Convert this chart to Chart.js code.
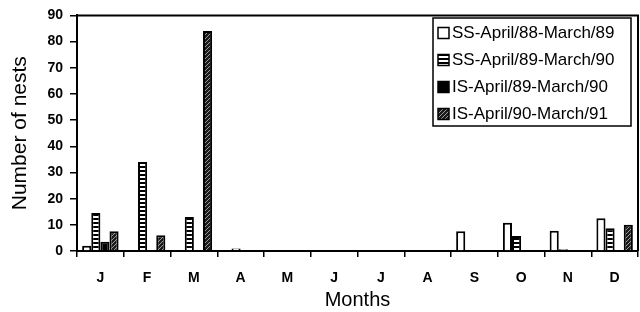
<!DOCTYPE html>
<html>
<head>
<meta charset="utf-8">
<script src="https://cdn.jsdelivr.net/npm/chart.js@4.4.0/dist/chart.umd.min.js"></script>
<style>
  html, body { margin: 0; padding: 0; background: #fff; }
  #wrap { width: 640px; height: 312px; }
</style>
</head>
<body>
<div id="wrap"><canvas id="myChart" width="640" height="312"></canvas></div>
<script>
// months on x axis
const months = ['J', 'F', 'M', 'A', 'M', 'J', 'J', 'A', 'S', 'O', 'N', 'D'];

// series values
const ss8889 = [2, 0, 0, 0, 0, 0, 0, 0, 7.5, 10.8, 7.7, 12.5];
const ss8990 = [14.5, 34, 13, 1, 0, 0, 0, 0, 0, 5.7, 0.7, 8.7];
const is8990 = [3.5, 0, 0, 0, 0, 0, 0, 0, 0, 0, 0, 0];
const is9091 = [7.5, 6, 84, 0, 0, 0, 0, 0, 0, 0, 0, 10];

const seriesLabels = [
  'SS-April/88-March/89',
  'SS-April/89-March/90',
  'IS-April/89-March/90',
  'IS-April/90-March/91'
];

const yTicks = [0, 10, 20, 30, 40, 50, 60, 70, 80, 90];

const FONT = '"Liberation Sans", Arial, sans-serif';

// fill patterns
function makePattern(w, h, draw) {
  const c = document.createElement('canvas');
  c.width = w;
  c.height = h;
  const g = c.getContext('2d');
  draw(g);
  return document.getElementById('myChart').getContext('2d').createPattern(c, 'repeat');
}

const stripes = makePattern(4, 4, g => {
  g.fillStyle = '#fff';
  g.fillRect(0, 0, 4, 4);
  g.fillStyle = '#000';
  g.fillRect(0, 2, 4, 2);
});

const hatch = makePattern(4, 4, g => {
  g.fillStyle = '#1a1a1a';
  g.fillRect(0, 0, 4, 4);
  g.fillStyle = '#9a9a9a';
  g.fillRect(3, 0, 1, 1);
  g.fillRect(2, 1, 1, 1);
  g.fillRect(1, 2, 1, 1);
  g.fillRect(0, 3, 1, 1);
});

const fills = ['#ffffff', stripes, '#000000', hatch];

// frame on top/right + legend box inside the plot
const framePlugin = {
  id: 'frame',
  afterDraw(chart) {
    const c = chart.ctx;
    const a = chart.chartArea;
    c.save();
    c.strokeStyle = '#000';
    c.lineWidth = 2;
    c.beginPath();
    c.moveTo(a.left, a.top);
    c.lineTo(a.right, a.top);
    c.lineTo(a.right, a.bottom);
    c.stroke();

    // legend
    const bx = 433, by = 18, bw = 198, bh = 108;
    c.lineWidth = 1.5;
    c.fillStyle = '#fff';
    c.fillRect(bx, by, bw, bh);
    c.strokeRect(bx, by, bw, bh);
    c.font = '17px ' + FONT;
    c.textBaseline = 'middle';
    chart.data.datasets.forEach((ds, i) => {
      const y = by + 15 + i * 27;
      c.fillStyle = ds.backgroundColor;
      c.fillRect(438, y - 5.5, 11, 11);
      c.lineWidth = 1.5;
      c.strokeStyle = '#000';
      c.strokeRect(438, y - 5.5, 11, 11);
      c.fillStyle = '#000';
      c.fillText(ds.label, 452, y);
    });
    c.restore();
  }
};

const ctx = document.getElementById('myChart').getContext('2d');

const myChart = new Chart(ctx, {
  type: 'bar',
  data: {
    labels: months,
    datasets: [ss8889, ss8990, is8990, is9091].map((vals, i) => ({
      label: seriesLabels[i],
      data: vals,
      backgroundColor: fills[i],
      borderColor: '#000',
      borderWidth: 2,
      borderSkipped: 'bottom',
      barPercentage: 1,
      categoryPercentage: 0.78
    }))
  },
  options: {
    responsive: false,
    animation: false,
    devicePixelRatio: 1,
    layout: { padding: { top: 14, right: 2, left: 0, bottom: 0 } },
    plugins: {
      legend: { display: false },
      tooltip: { enabled: false }
    },
    scales: {
      x: {
        offset: true,
        grid: {
          display: true,
          offset: true,
          drawOnChartArea: false,
          drawTicks: true,
          tickLength: 6,
          color: '#000',
          lineWidth: 1.5
        },
        border: { display: true, color: '#000', width: 2 },
        ticks: {
          color: '#000',
          padding: 13,
          font: { family: FONT, size: 14, weight: 'bold' }
        },
        title: {
          display: true,
          text: 'Months',
          color: '#000',
          padding: { top: 0, bottom: 0 },
          font: { family: FONT, size: 20 }
        },
        afterFit(scale) { scale.height = 61; }
      },
      y: {
        min: 0,
        max: 90,
        afterBuildTicks(scale) { scale.ticks = yTicks.map(v => ({ value: v })); },
        grid: {
          display: true,
          drawOnChartArea: false,
          drawTicks: true,
          tickLength: 7,
          color: '#000',
          lineWidth: 1.5
        },
        border: { display: true, color: '#000', width: 2 },
        ticks: {
          color: '#000',
          padding: 7,
          font: { family: FONT, size: 14, weight: 'bold' }
        },
        title: {
          display: true,
          text: 'Number of nests',
          color: '#000',
          padding: { top: 8, bottom: 4 },
          font: { family: FONT, size: 21 }
        },
        afterFit(scale) { scale.width = 77; }
      }
    }
  },
  plugins: [framePlugin]
});
</script>
</body>
</html>
